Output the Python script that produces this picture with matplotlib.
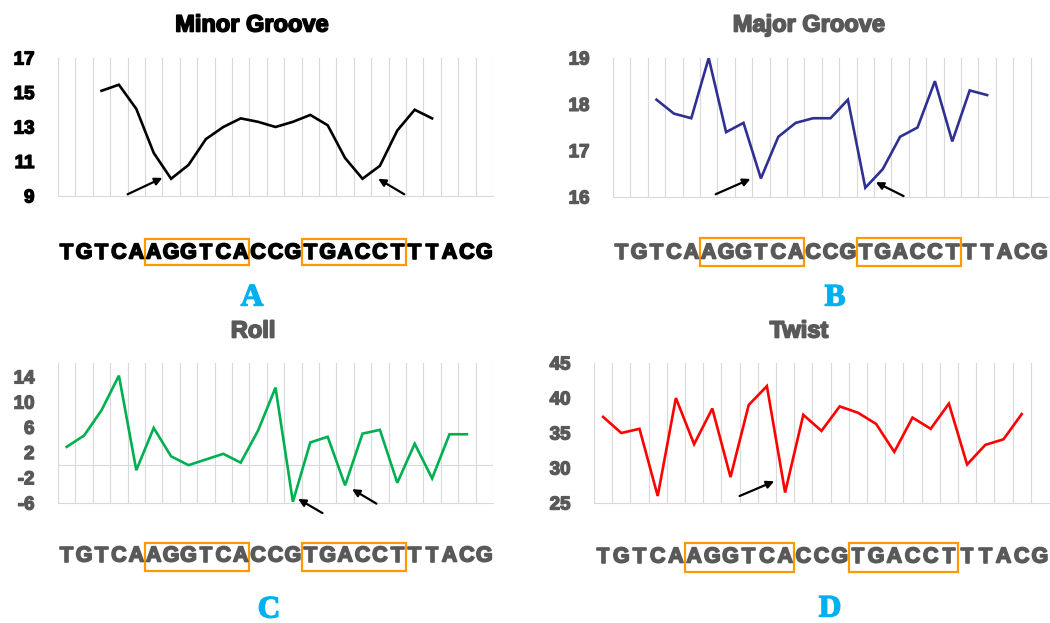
import matplotlib
matplotlib.use("Agg")
import matplotlib.pyplot as plt
import matplotlib.transforms as mtransforms
import matplotlib.patheffects as pe
from matplotlib.patches import Rectangle

plt.rcParams["font.family"] = ["Liberation Sans", "DejaVu Sans"]

# --- data ----------------------------------------------------------------
sequence = list("TGTCAAGGTCACCGTGACCTTTACG")
boxed_spans = [(5, 11), (14, 20)]          # AGGTCA, TGACCT (category index ranges)

minor_groove_start = 2
minor_groove = [15.1, 15.45, 14.05, 11.5, 10.0, 10.8, 12.3, 13.0, 13.5, 13.3,
                13.0, 13.3, 13.7, 13.1, 11.2, 10.0, 10.75, 12.8, 14.0, 13.5]

major_groove_start = 2
major_groove = [18.1, 17.8, 17.7, 19.0, 17.4, 17.6, 16.4, 17.3, 17.6, 17.7,
                17.7, 18.1, 16.2, 16.6, 17.3, 17.5, 18.5, 17.2, 18.3, 18.2]

roll_start = 0
roll = [2.9, 4.7, 8.7, 14.2, -0.8, 5.9, 1.4, 0.0, 0.9, 1.8, 0.4, 5.5,
        12.3, -5.8, 3.6, 4.5, -3.2, 5.0, 5.6, -2.8, 3.4, -2.1, 4.9, 4.9]

twist_start = 0
twist = [37.3, 35.0, 35.6, 26.0, 40.0, 33.4, 38.5, 28.7, 39.0, 41.7, 26.5, 37.6,
         35.3, 38.8, 37.9, 36.3, 32.3, 37.2, 35.6, 39.2, 30.5, 33.3, 34.1, 37.7]

# arrows: (tail_x, tail_y, head_x, head_y) in data units of each panel
arrows_minor = [(4.0, 9.1, 6.0, 10.05), (19.9, 9.1, 18.4, 10.0)]
arrows_major = [(5.9, 16.06, 7.9, 16.39), (16.7, 16.02, 15.1, 16.32)]
arrows_roll = [(15.2, -7.6, 13.8, -5.35), (18.3, -6.1, 16.9, -3.8)]
arrows_twist = [(8.0, 26.0, 9.9, 28.1)]

GRID = "#D9D9D9"
GRAY = "#595959"
ORANGE = "#FF9900"
BLUE = "#00B0F0"

W, H = 1050, 623
fig = plt.figure(figsize=(W / 100, H / 100), dpi=100)


def heavy(color, w=1.1):
    # fake an "Arial Black" weight by stroking the glyph outline
    return [pe.withStroke(linewidth=w, foreground=color)]


def px_axes(left, top, right, bottom):
    return fig.add_axes([left / W, 1 - bottom / H, (right - left) / W, (bottom - top) / H])


def setup_panel(ax, start, values, color, ylim, yticks, text_color,
                arrows, seq_y, box_top, box_bot):
    n = len(sequence)
    xs = [start + i + 0.5 for i in range(len(values))]
    ax.plot(xs, values, color=color, lw=1.9, solid_joinstyle="miter", zorder=3)
    ax.set_xlim(0, n)
    ax.set_ylim(*ylim)
    ax.set_xticks(range(n + 1))
    ax.set_xticklabels([])
    ax.tick_params(axis="x", length=0)
    ax.grid(axis="x", color=GRID, lw=0.8)
    ax.set_yticks(yticks)
    labels = ax.set_yticklabels([str(t) for t in yticks], fontsize=13.5,
                                fontweight="bold", color=text_color)
    for lb in labels:
        lb.set_path_effects(heavy(text_color, 1.0))
    ax.tick_params(axis="y", length=0, pad=17)
    for s in ("top", "left", "right"):
        ax.spines[s].set_visible(False)
    ax.spines["bottom"].set_color(GRID)
    ax.spines["bottom"].set_linewidth(0.8)

    for tx, ty, hx, hy in arrows:
        ax.annotate("", xy=(hx, hy), xytext=(tx, ty),
                    arrowprops=dict(arrowstyle="-|>", color="black", lw=1.6,
                                    mutation_scale=11, shrinkA=0, shrinkB=0),
                    annotation_clip=False, zorder=4)

    trans = mtransforms.blended_transform_factory(ax.transData, fig.transFigure)
    for i, ch in enumerate(sequence):
        ax.text(i + 0.5, 1 - seq_y / H, ch, transform=trans, ha="center",
                va="center", fontsize=15.5, fontweight="bold", color=text_color,
                path_effects=heavy(text_color, 1.2))
    for a, b in boxed_spans:
        ax.add_patch(Rectangle((a, 1 - box_bot / H), b - a, (box_bot - box_top) / H,
                               transform=trans, fill=False, edgecolor=ORANGE,
                               lw=1.6, clip_on=False))


ax_a = px_axes(58, 58, 493, 196)
setup_panel(ax_a, minor_groove_start, minor_groove, "black", (9, 17),
            [9, 11, 13, 15, 17], "black", arrows_minor, 253, 239, 265)

ax_b = px_axes(613, 58, 1048, 197)
setup_panel(ax_b, major_groove_start, major_groove, "#2E3192", (16, 19),
            [16, 17, 18, 19], GRAY, arrows_major, 253, 238, 266)

ax_c = px_axes(58, 363, 493, 503)
setup_panel(ax_c, roll_start, roll, "#00B050", (-6, 16.2),
            [-6, -2, 2, 6, 10, 14], GRAY, arrows_roll, 556, 543, 571)
ax_c.axhline(0, color=GRID, lw=0.8, zorder=1)

ax_d = px_axes(594, 363, 1049, 503)
setup_panel(ax_d, twist_start, twist, "#FF0000", (25, 45),
            [25, 30, 35, 40, 45], GRAY, arrows_twist, 557, 543, 572)

# titles
for txt, x, y, c in [("Minor Groove", 252, 25, "black"),
                     ("Major Groove", 809, 25, GRAY),
                     ("Roll", 253, 331, GRAY),
                     ("Twist", 799, 331, GRAY)]:
    fig.text(x / W, 1 - y / H, txt, ha="center", va="center", fontsize=17,
             fontweight="bold", color=c, path_effects=heavy(c, 1.2))

# panel letters
for lab, x, y in [("A", 252, 298), ("B", 835, 298), ("C", 269, 610), ("D", 830, 609)]:
    fig.text(x / W, 1 - y / H, lab, ha="center", va="center", fontsize=22.5,
             fontweight="bold", color=BLUE, family=["Liberation Serif", "DejaVu Serif"],
             path_effects=heavy(BLUE, 1.0))

fig.savefig("out.png", dpi=100)
